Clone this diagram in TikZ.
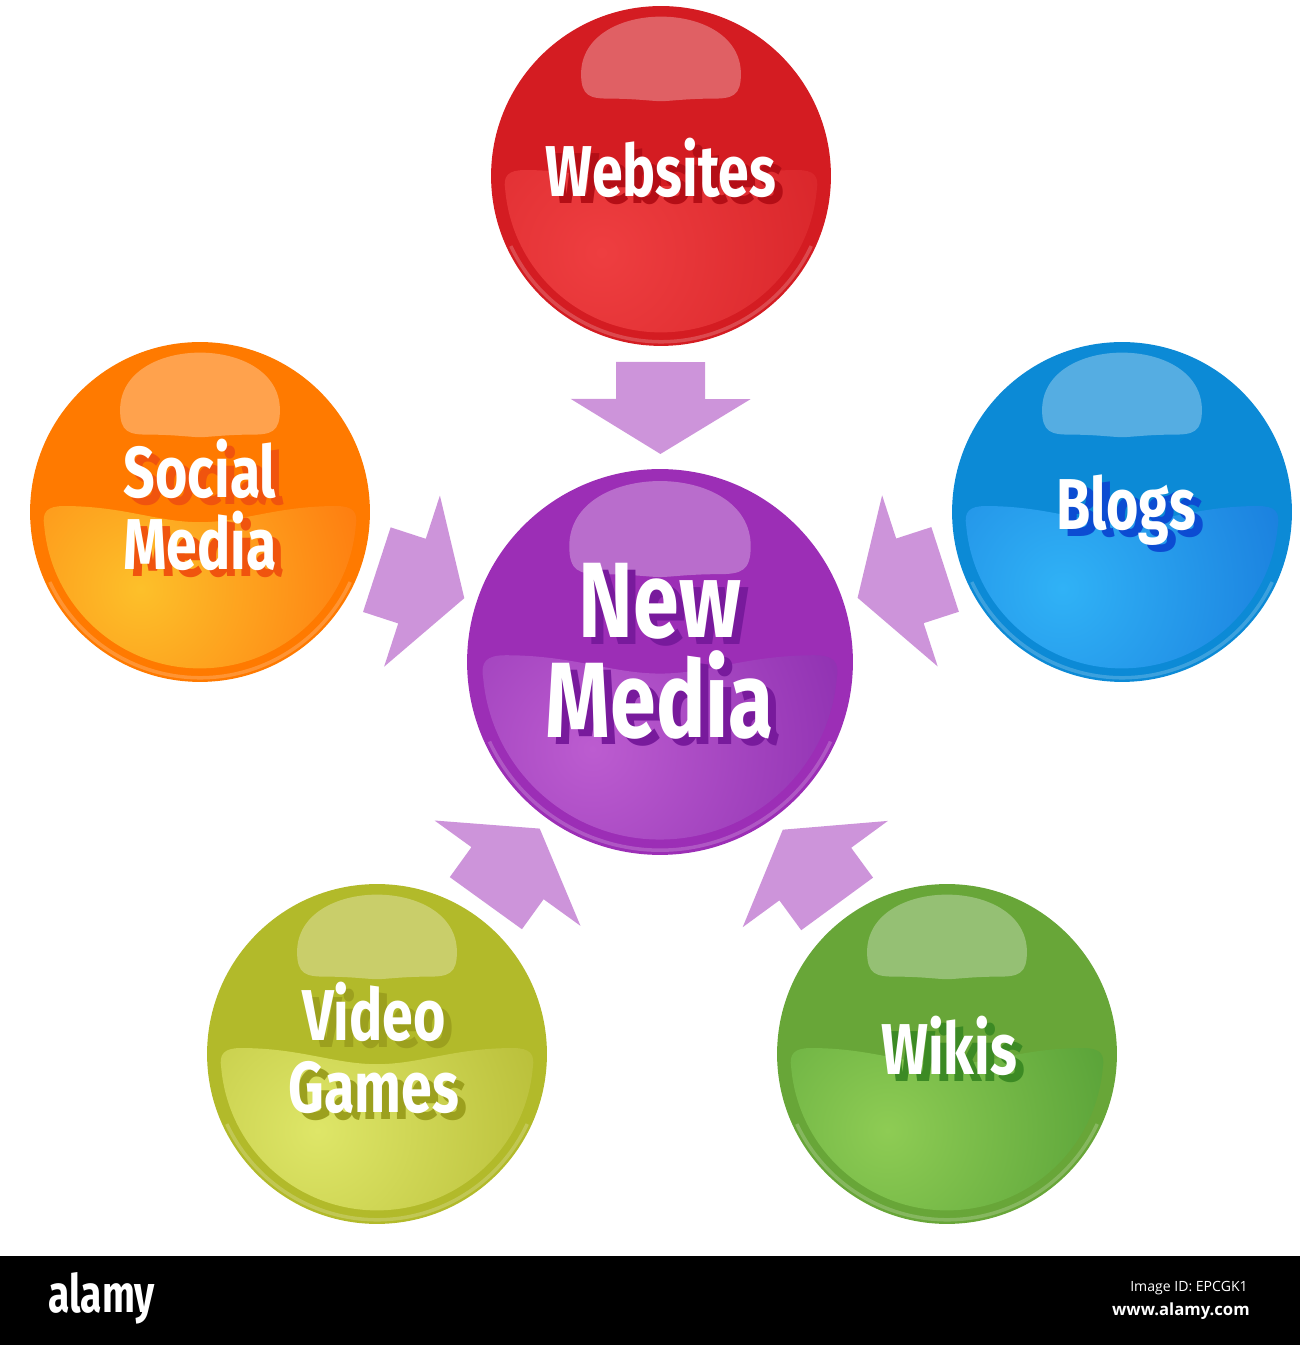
\documentclass[tikz,border=0pt]{standalone}
\usepackage{fontspec}
\usepackage{tikz}
\usetikzlibrary{calc}
\newfontfamily\ballfont[FakeStretch=0.77]{Fira Sans}
\newfontfamily\logofont[FakeStretch=0.74]{Fira Sans}
\newfontfamily\barfont{Open Sans}

\definecolor{WebsitesBase}{RGB}{212,28,34}
\definecolor{WebsitesLight}{RGB}{238,62,64}
\definecolor{WebsitesDark}{RGB}{205,24,30}
\definecolor{WebsitesShadow}{RGB}{180,14,22}
\definecolor{SocialBase}{RGB}{255,122,0}
\definecolor{SocialLight}{RGB}{253,192,42}
\definecolor{SocialDark}{RGB}{255,84,0}
\definecolor{SocialShadow}{RGB}{240,84,14}
\definecolor{BlogsBase}{RGB}{12,138,214}
\definecolor{BlogsLight}{RGB}{48,178,246}
\definecolor{BlogsDark}{RGB}{14,98,208}
\definecolor{BlogsShadow}{RGB}{12,76,210}
\definecolor{NewMediaBase}{RGB}{156,46,182}
\definecolor{NewMediaLight}{RGB}{188,92,208}
\definecolor{NewMediaDark}{RGB}{118,24,160}
\definecolor{NewMediaShadow}{RGB}{120,26,156}
\definecolor{VideoBase}{RGB}{178,186,42}
\definecolor{VideoLight}{RGB}{222,230,104}
\definecolor{VideoDark}{RGB}{164,168,30}
\definecolor{VideoShadow}{RGB}{156,160,30}
\definecolor{WikisBase}{RGB}{104,166,56}
\definecolor{WikisLight}{RGB}{142,204,84}
\definecolor{WikisDark}{RGB}{58,138,40}
\definecolor{WikisShadow}{RGB}{60,138,36}
\definecolor{FeedPurple}{RGB}{205,148,218}

\tikzset{
  ball/.style={circle, inner sep=0pt, outer sep=0pt},
  caption/.style={text=white, align=center, inner sep=0pt},
  small/.style={font=\ballfont\bfseries\fontsize{41}{41.4}\selectfont},
  big/.style={font=\ballfont\bfseries\fontsize{61}{57}\selectfont},
  feed/.style={fill=FeedPurple},
}

% glossy sphere: name, centre, radius (px)
\newcommand{\ball}[3]{%
  \node[ball, fill=#1Base, minimum size=#3*0.04cm] (#1) at (#2) {};
  \begin{scope}[shift={(#1)}]
    \begin{scope}
      \clip (185:0.92*#3) arc[start angle=185, end angle=355, radius=0.92*#3]
        .. controls (0.93*#3,0) and (0.9*#3,0.035*#3) .. (0.8*#3,0.035*#3)
        .. controls (0.45*#3,0.035*#3) and (0.25*#3,-0.06*#3) .. (0,-0.06*#3)
        .. controls (-0.25*#3,-0.06*#3) and (-0.45*#3,0.035*#3) .. (-0.8*#3,0.035*#3)
        .. controls (-0.9*#3,0.035*#3) and (-0.93*#3,0) .. (185:0.92*#3) -- cycle;
      \shade[inner color=#1Light, outer color=#1Dark] (-0.35*#3,-0.45*#3) circle (2.2*#3);
    \end{scope}
    \fill[white, opacity=0.3] (-0.47*#3,0.6*#3)
      .. controls (-0.47*#3,1.05*#3) and (0.47*#3,1.05*#3) .. (0.47*#3,0.6*#3)
      .. controls (0.47*#3,0.47*#3) and (0.42*#3,0.455*#3) .. (0.3*#3,0.455*#3)
      .. controls (0.15*#3,0.455*#3) and (0.05*#3,0.44*#3) .. (0,0.44*#3)
      .. controls (-0.05*#3,0.44*#3) and (-0.15*#3,0.455*#3) .. (-0.3*#3,0.455*#3)
      .. controls (-0.42*#3,0.455*#3) and (-0.47*#3,0.47*#3) .. cycle;
    \draw[white, opacity=0.2, line width=2pt] (205:0.975*#3) arc[start angle=205, end angle=335, radius=0.975*#3];
  \end{scope}
}

% label with drop shadow: name, size style, text, offset
\newcommand{\balltext}[4]{%
  \node[caption, #2, text=#1Shadow] (#1Shade) at ($(#1)+(#4)+(8,-7)$) {#3};
  \node[caption, #2] (#1Text) at ($(#1)+(#4)$) {#3};
}

% fat block arrow from one sphere into another
\newcommand{\feed}[2]{%
  \coordinate (#1Tail) at ($(#1)!186*0.02cm!(#2)$);
  \coordinate (#1Neck) at ($(#1)!223*0.02cm!(#2)$);
  \coordinate (#1Tip) at ($(#1)!278*0.02cm!(#2)$);
  \fill[feed] ($(#1Tail)!44.5*0.02cm!90:(#2)$) -- ($(#1Neck)!44.5*0.02cm!90:(#2)$)
    -- ($(#1Neck)!90*0.02cm!90:(#2)$) -- (#1Tip) -- ($(#1Neck)!90*0.02cm!-90:(#2)$)
    -- ($(#1Neck)!44.5*0.02cm!-90:(#2)$) -- ($(#1Tail)!44.5*0.02cm!-90:(#2)$) -- cycle;
}

\begin{document}
\begin{tikzpicture}[x=0.02cm, y=0.02cm]
  \useasboundingbox (0,0) rectangle (1300,1345);
  % Spheres
  \ball{NewMedia}{660,683}{193}
  \ball{Websites}{661,1169}{170}
  \ball{Social}{200,833}{170}
  \ball{Blogs}{1122,833}{170}
  \ball{Video}{377,291}{170}
  \ball{Wikis}{947,291}{170}
  % Labels
  \balltext{NewMedia}{big}{New\\Media}{0,11}
  \balltext{Websites}{small}{Websites}{0,8}
  \balltext{Social}{small}{Social\\Media}{0,7}
  \balltext{Blogs}{small}{Blogs}{4,2}
  \balltext{Video}{small}{Video\\Games}{-3,6}
  \balltext{Wikis}{small}{Wikis}{2,8}
  % Arrows into the centre
  \feed{Websites}{NewMedia}
  \feed{Social}{NewMedia}
  \feed{Blogs}{NewMedia}
  \feed{Video}{NewMedia}
  \feed{Wikis}{NewMedia}
  % Bottom bar
  \fill[black] (0,0) rectangle (1300,89);
  \node[anchor=base west, inner sep=0pt, text=white, font=\logofont\bfseries\fontsize{30}{30}\selectfont] (Logo) at (48,32) {alamy};
  \node[anchor=base east, inner sep=0pt, text=white, font=\barfont\fontsize{8}{8}\selectfont] (ImageId) at (1248,53) {Image ID: EPCGK1};
  \node[anchor=base east, inner sep=0pt, text=white, font=\barfont\bfseries\fontsize{9.5}{9.5}\selectfont] (Site) at (1250,30) {www.alamy.com};
\end{tikzpicture}
\end{document}
